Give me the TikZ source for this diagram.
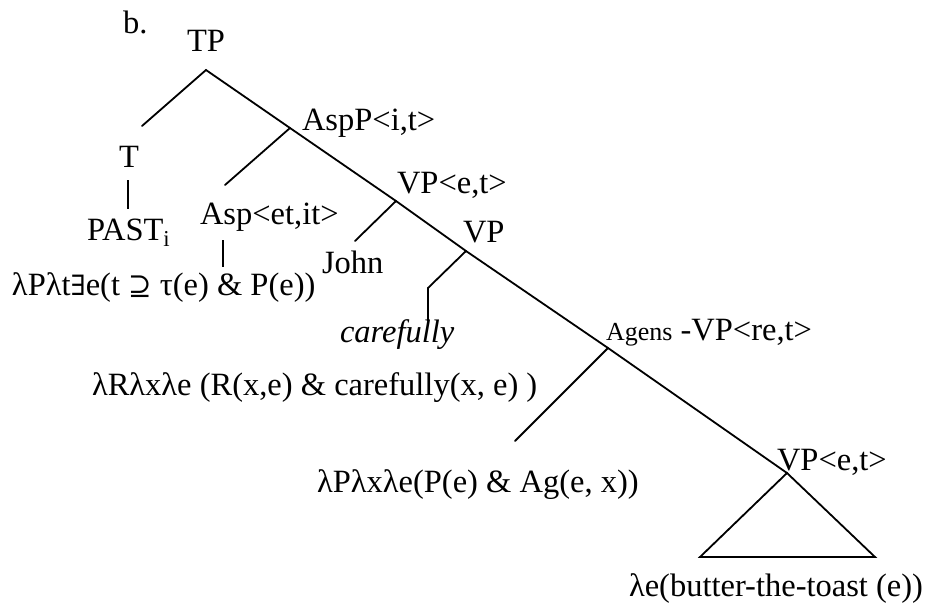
\documentclass[tikz,border=0pt]{standalone}
\usepackage{fontspec}
\setmainfont{Liberation Serif}
\newfontfamily\symfnt{DejaVu Serif}
\newcommand{\exsym}{{\symfnt\fontsize{28}{32}\selectfont ∃}}
\newcommand{\supsym}{{\symfnt\fontsize{28}{32}\selectfont ⊇}}
\begin{document}
\begin{tikzpicture}[x=1pt,y=-1pt,
  lbl/.style={inner sep=0pt,outer sep=0pt,anchor=base west,font=\fontsize{32.5}{38}\selectfont},
  branch/.style={line width=1.8pt,line cap=round,line join=miter}]
\useasboundingbox (0,0) rectangle (947,602);
% junctions
\coordinate (tp) at (206,70);
\coordinate (tleaf) at (142,126);
\coordinate (aspp) at (290,128);
\coordinate (aspleaf) at (225,185);
\coordinate (vpet) at (396,201);
\coordinate (johnleaf) at (355,241);
\coordinate (vp) at (466,251);
\coordinate (carebend) at (428,288);
\coordinate (careleaf) at (428,321);
\coordinate (agens) at (608,348);
\coordinate (agleaf) at (515,441);
\coordinate (vplow) at (787,473);
\coordinate (trl) at (700,557);
\coordinate (trr) at (875,557);
\coordinate (tvt) at (128,180);
\coordinate (tvb) at (128,209);
\coordinate (avt) at (223,240);
\coordinate (avb) at (223,267);
% labels
\node[lbl] (b) at (123,34) {b.};
\node[lbl,anchor=base] (TP) at (206,52) {TP};
\node[lbl] (AspP) at (302,130) {AspP<i,t>};
\node[lbl,anchor=base] (T) at (129,167) {T};
\node[lbl] (PAST) at (87,240) {PAST\textsubscript{i}};
\node[lbl] (Asp) at (200,224) {Asp<et,it>};
\node[lbl] (aspsem) at (12,295) {λPλt\exsym e(t \supsym\ τ(e) \& P(e))};
\node[lbl] (John) at (322,273) {John};
\node[lbl] (VPet) at (397,193) {VP<e,t>};
\node[lbl] (VP) at (463,242) {VP};
\node[lbl] (careful) at (340,342) {\itshape carefully};
\node[lbl] (caresem) at (92,395) {λRλxλe (R(x,e) \& carefully(x, e) )};
\node[lbl] (Agens) at (606,340) {{\fontsize{26}{30}\selectfont Agens} -VP<re,t>};
\node[lbl] (agsem) at (317,492) {λPλxλe(P(e) \& Ag(e, x))};
\node[lbl] (VPlow) at (777,470) {VP<e,t>};
\node[lbl,anchor=base] (butter) at (776,596) {λe(butter-the-toast (e))};
% branches
\draw[branch] (tleaf) -- (tp) -- (aspp) -- (vpet) -- (vp) -- (agens) -- (vplow);
\draw[branch] (aspp) -- (aspleaf);
\draw[branch] (vpet) -- (johnleaf);
\draw[branch] (vp) -- (carebend) -- (careleaf);
\draw[branch] (agens) -- (agleaf);
\draw[branch] (vplow) -- (trl) -- (trr) -- cycle;
\draw[line width=1.2pt] (tvt) -- (tvb);
\draw[line width=1.2pt] (avt) -- (avb);
\end{tikzpicture}
\end{document}
